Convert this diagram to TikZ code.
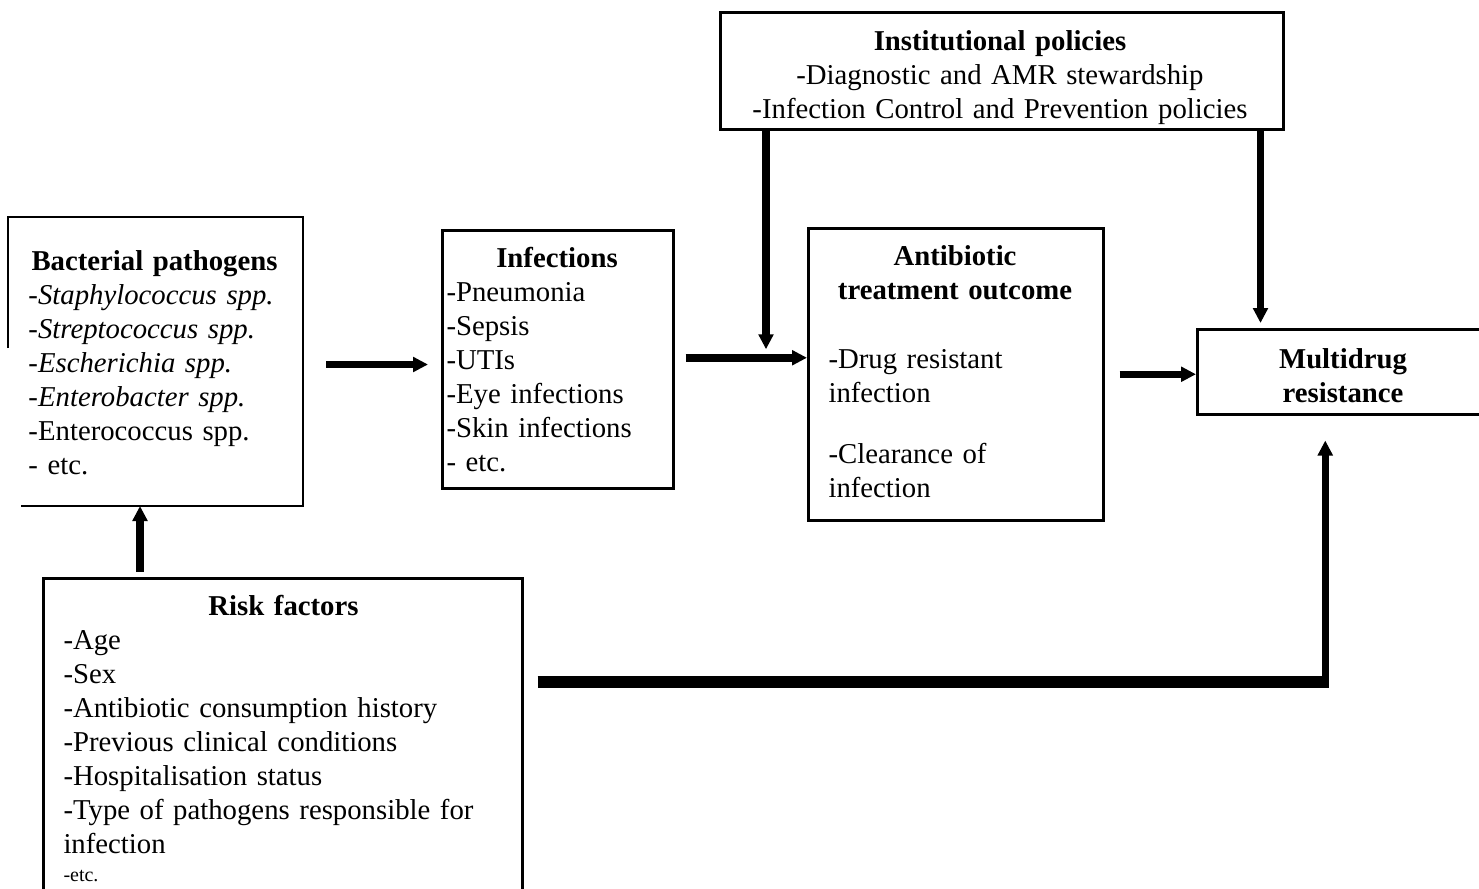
\documentclass[tikz,border=0pt]{standalone}
\usepackage{fontspec}
\setmainfont{Liberation Serif}
\usetikzlibrary{arrows.meta}
\newcommand\boxtitle[2]{\makebox[#1][c]{\bfseries #2}}
\begin{document}
\begin{tikzpicture}[x=0.4pt,y=-0.4pt,
  box/.style={rectangle, draw, line width=1pt, inner sep=0pt, anchor=north west},
  boxnd/.style={rectangle, inner sep=0pt, anchor=north west},
  bline/.style={line width=1pt},
  txt/.style={inner sep=0pt, anchor=base west, align=left, text width=240pt, font=\fontsize{11.5}{13.6}\selectfont},
  ctxt/.style={inner sep=0pt, anchor=base, text width=240pt, font=\fontsize{11.5}{13.6}\selectfont},
  arr/.style={line width=3pt, -{Triangle[length=6pt,width=5.8pt]}},
  thickline/.style={line width=4.6pt}
]
\useasboundingbox (0,0) rectangle (1479,888);
\clip (0,0) rectangle (1479,888);
\fill[white] (0,0) rectangle (1479,888);

% boxes
\node[boxnd, minimum width=294*0.4pt, minimum height=288*0.4pt] (bac) at (8,217) {};
\draw[bline] ([yshift=-52.4pt]bac.north west) -- (bac.north west) -- (bac.north east) -- (bac.south east) -- ([xshift=5.2pt]bac.south west);
\node[box, minimum width=231*0.4pt, minimum height=258*0.4pt] (inf) at (441,229) {};
\node[box, minimum width=295*0.4pt, minimum height=292*0.4pt] (abx) at (807,227) {};
\node[box, minimum width=294*0.4pt, minimum height=85*0.4pt] (mdr) at (1196,328) {};
\node[box, minimum width=563*0.4pt, minimum height=117*0.4pt] (inst) at (719,11) {};
\node[box, minimum width=479*0.4pt, minimum height=340*0.4pt] (risk) at (42,577) {};

% texts
\node[txt] (bact) at (28,270) {\boxtitle{100.8pt}{Bacterial pathogens}\\-\textit{Staphylococcus spp.}\\-\textit{Streptococcus spp.}\\-\textit{Escherichia spp.}\\-\textit{Enterobacter spp.}\\-Enterococcus spp.\\- etc.};
\node[txt] (inft) at (446,267) {\boxtitle{88.4pt}{Infections}\\-Pneumonia\\-Sepsis\\-UTIs\\-Eye infections\\-Skin infections\\- etc.};
\node[txt] (abxt) at (828,265) {\boxtitle{101.2pt}{Antibiotic}\\\boxtitle{101.2pt}{treatment outcome}\par\vspace{14pt}-Drug resistant\\infection\par\vspace{10.8pt}-Clearance of\\infection};
\node[ctxt] (mdrt) at (1343,368) {\centering\bfseries Multidrug\\resistance\par};
\node[ctxt] (instt) at (1000,50) {\centering{\bfseries Institutional policies}\\-Diagnostic and AMR stewardship\\-Infection Control and Prevention policies\par};
\node[txt] (riskt) at (63,615) {\boxtitle{176pt}{Risk factors}\\-Age\\-Sex\\-Antibiotic consumption history\\-Previous clinical conditions\\-Hospitalisation status\\-Type of pathogens responsible for\\infection\par{\fontsize{8}{11.2}\selectfont -etc.\par}};

% connectors
\draw[arr, shorten <=9.2pt, shorten >=5.2pt] ([yshift=-1.2pt]bac.east) -- ([yshift=-1.2pt]bac.east -| inf.west);
\draw[arr, shorten <=4.4pt] ([yshift=0.6pt]inf.east) -- ([yshift=0.6pt]inf.east -| abx.west);
\coordinate (ia) at ([xshift=18.8pt]inst.south west);
\draw[arr, shorten >=4pt] (ia) -- (ia |- inf.east);
\draw[arr, shorten <=6pt] (abx.east) -- (abx.east -| mdr.west);
\coordinate (im) at ([xshift=-9.6pt]inst.south east);
\draw[arr, shorten >=2pt] (im) -- (im |- mdr.north);
\coordinate (rb) at ([xshift=39.2pt]risk.north west);
\draw[arr] ([yshift=2pt]rb) -- (rb |- bac.south);
\coordinate (rk) at ([yshift=-42pt]risk.north east);
\coordinate (mdrin) at ([xshift=-7.6pt]mdr.south);
\coordinate (bend) at (rk -| mdrin);
\draw[thickline, shorten <=5.6pt] (rk) -- ([xshift=1.5pt]bend);
\draw[arr, shorten >=10pt] ([yshift=-2.3pt]bend) -- (mdrin);
\end{tikzpicture}
\end{document}
